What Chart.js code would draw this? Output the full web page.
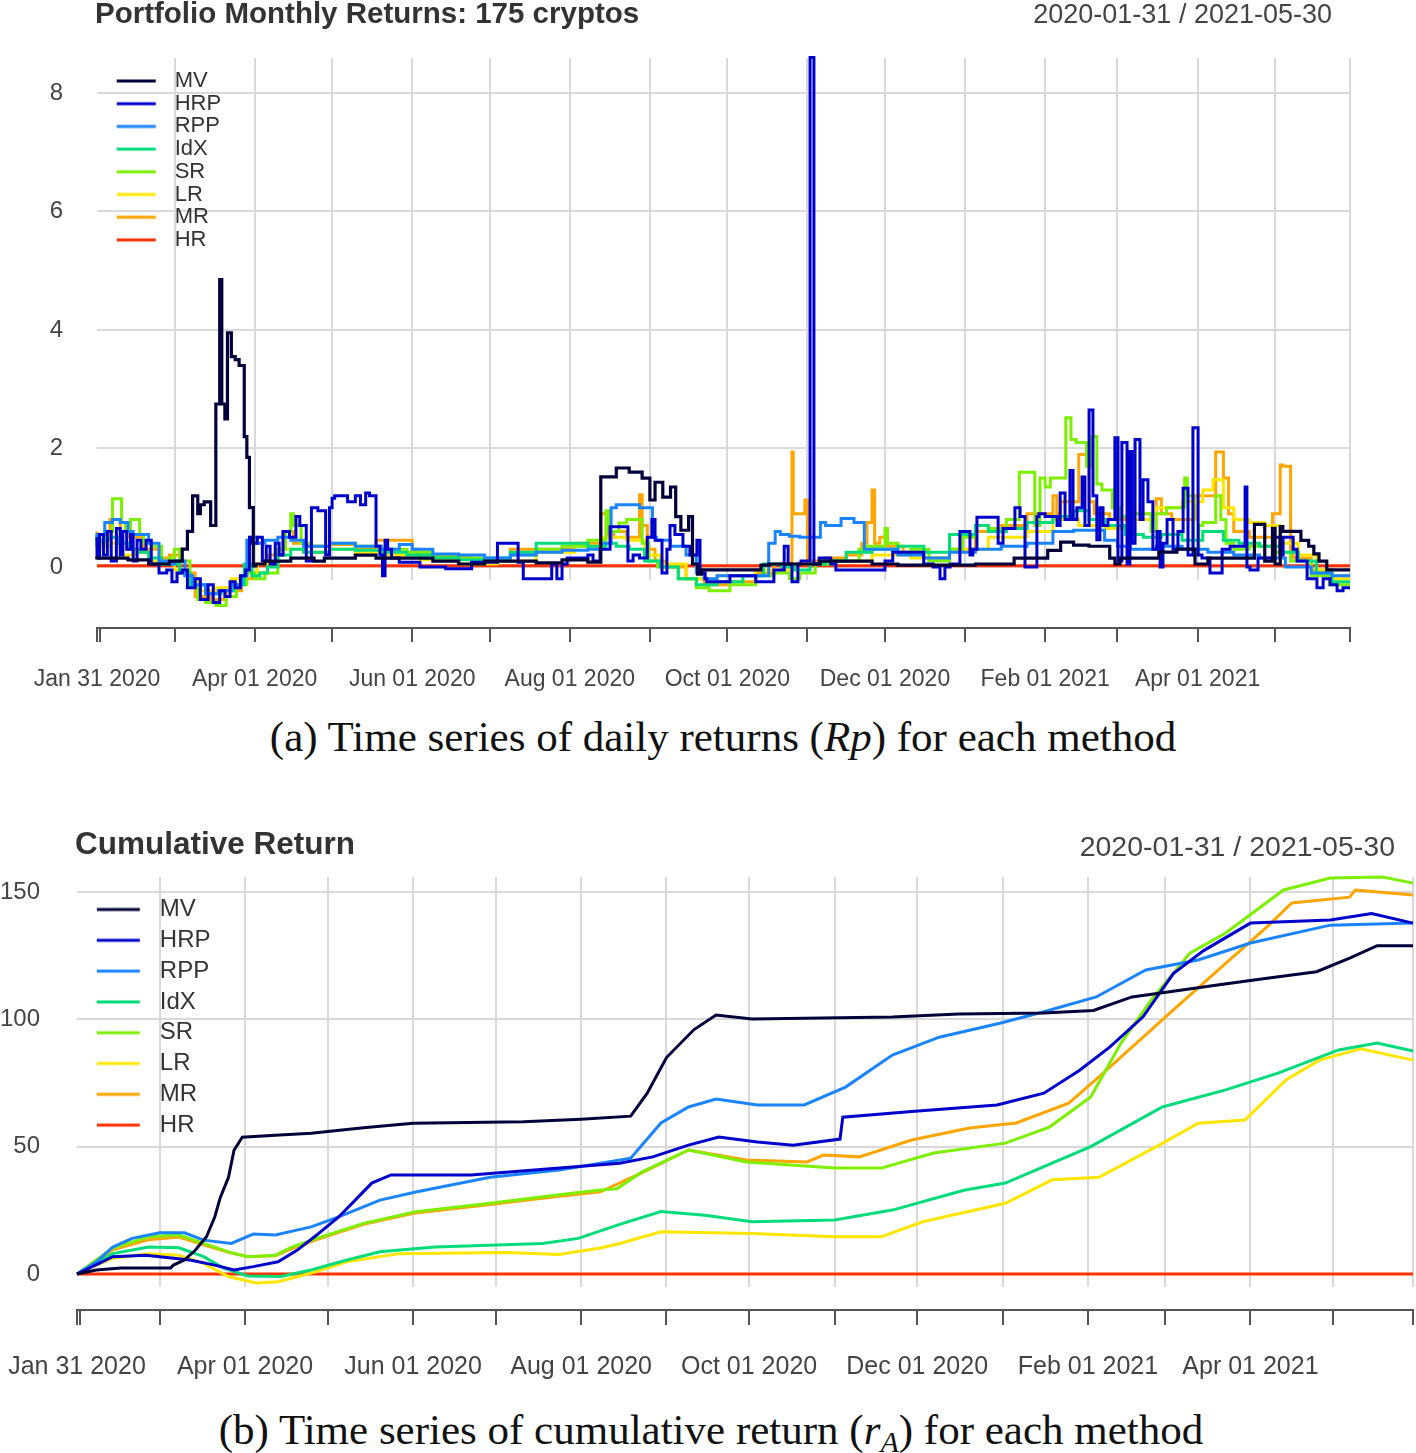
<!DOCTYPE html>
<html><head><meta charset="utf-8">
<script src="https://cdn.jsdelivr.net/npm/chart.js@4.4.1/dist/chart.umd.min.js"></script>
<style>
html,body{margin:0;padding:0;background:#fff;}
#page{position:relative;width:1416px;height:1453px;overflow:hidden;background:#fff;}
canvas{position:absolute;left:0;}
.t{position:absolute;white-space:nowrap;font-family:"Liberation Sans",Arial,sans-serif;line-height:1;}
.cap{position:absolute;white-space:nowrap;font-family:"Liberation Serif","Times New Roman",serif;line-height:1;color:#111;transform:translateX(-50%);}
.cap sub{font-size:70%;vertical-align:-0.25em;line-height:0;}
</style></head><body><div id="page">
<canvas id="cA" width="1416" height="712" style="top:0px"></canvas>
<canvas id="cB" width="1416" height="620" style="top:780px"></canvas>
<div class="t" style="left:95px;top:-2px;font-size:29.5px;font-weight:bold;color:#333">Portfolio Monthly Returns: 175 cryptos</div>
<div class="t" style="right:84px;top:1px;font-size:27px;color:#444">2020-01-31 / 2021-05-30</div>
<div class="cap" style="left:723px;top:715px;font-size:43px">(a) Time series of daily returns (<i>Rp</i>) for each method</div>
<div class="t" style="left:75px;top:828px;font-size:31.5px;font-weight:bold;color:#333">Cumulative Return</div>
<div class="t" style="right:21px;top:832px;font-size:28.5px;color:#444">2020-01-31 / 2021-05-30</div>
<div class="cap" style="left:711px;top:1408px;font-size:43px">(b) Time series of cumulative return (<i>r</i><sub><i>A</i></sub>) for each method</div>
</div>
<script>
// ---------- categories / labels ----------
const SERIES = ['MV','HRP','RPP','IdX','SR','LR','MR','HR'];
const COLORS = ['#00003a','#0000cd','#1a84ff','#00dc7a','#7cf000','#ffe600','#ffa500','#ff3000'];
// day index counted from 2020-01-31
const tickDays = [0,1,30,61,91,122,152,183,214,244,275,305,336,367,395,426,456,485];
const gridDays = [30,61,91,122,152,183,214,244,275,305,336,367,395,426,456,485];
const tickLabelDays = [0,61,122,183,244,305,367,426];
const tickLabels = ['Jan 31 2020','Apr 01 2020','Jun 01 2020','Aug 01 2020','Oct 01 2020','Dec 01 2020','Feb 01 2021','Apr 01 2021'];
const retTicks = [0,2,4,6,8];
const cumTicks = [0,50,100,150];

// ---------- panel (a): daily returns Rp, [day, value] breakpoints ----------
const rpMV = [[0,0.13],[12,0.15],[20,0.12],[28,0.05],[33,0.1],[35,0.3],[37,0.6],[39,1.2],[40,0.9],[41.5,1.05],[44,1.1],[46,0.7],[47.5,2.75],[48.3,4.85],[49.5,2.75],[50.5,2.5],[52,3.95],[53.5,3.55],[55,3.5],[57,3.4],[58,2.2],[59,1.85],[60.5,1.0],[61.5,0.02],[65,0.05],[75,0.1],[84,0.15],[88,0.1],[100,0.15],[108,0.2],[130,0.15],[140,0.1],[150,0.05],[170,0.1],[180,0.07],[190,0.12],[195,0.08],[201,1.52],[206,1.67],[211,1.6],[214,1.5],[216,1.13],[219,1.43],[222,1.18],[224,1.35],[226,0.85],[229,0.62],[230.5,0.85],[232.5,0.05],[234,-0.12],[257,-0.05],[260,0.03],[280,0.05],[300,0.1],[310,0.05],[340,0.03],[355,0.05],[368,0.15],[373,0.28],[378,0.42],[384,0.37],[392,0.35],[394,0.15],[396,0.05],[411,0.15],[418,0.25],[425,0.3],[430,0.05],[448,0.15],[452,0.72],[455,0.1],[456,0.65],[458,0.05],[459,0.68],[466,0.6],[469,0.45],[471,0.35],[473,0.22],[476,0.1],[479,-0.05],[485,-0.05]];
const rpHRP = [[0,0.5],[1,0.15],[2.5,0.55],[4,0.2],[5.5,0.6],[7.5,0.1],[9,0.65],[10,0.2],[11.5,0.6],[13,0.3],[14,0.55],[15.5,0.1],[17,0.45],[19,0.3],[21,0.45],[24,0.05],[27,-0.1],[29,-0.05],[31,-0.25],[33,-0.1],[35,-0.05],[38,-0.35],[40,-0.2],[43,-0.55],[45,-0.3],[47.5,-0.6],[49.5,-0.4],[51.5,-0.5],[53.5,-0.25],[55.5,-0.35],[57.5,-0.15],[59,-0.05],[60,0.5],[62,0.4],[64,0.5],[65.5,0.1],[67,0.35],[69,0.05],[70.5,0.4],[72,0.2],[74.5,0.6],[77,0.5],[78.5,0.85],[81,0.7],[83,0.1],[85.5,1.0],[88.5,0.95],[90,0.2],[91,1.0],[92,1.16],[97,1.2],[100,1.1],[102,1.2],[104,1.05],[105.5,1.25],[108,1.2],[109.5,0.35],[110.5,0.2],[111.5,-0.15],[112.5,0.45],[114,0.3],[117,0.15],[125,0.08],[135,0.0],[145,-0.03],[155,0.08],[163,0.4],[165,0.08],[176,-0.2],[178,0.05],[180,-0.2],[182,0.05],[190,0.15],[192,0.2],[194.7,0.1],[198.6,0.3],[205.5,0.68],[207.5,0.1],[210,0.2],[213,0.15],[214.8,0.5],[216,0.8],[218.7,0.45],[220.6,-0.1],[221.8,0.3],[223.7,0.7],[226.8,0.55],[229.5,0.35],[232.2,0.2],[233.4,0.45],[235.4,-0.1],[236,-0.2],[245,-0.25],[255,-0.15],[262,-0.25],[266,-0.05],[267.5,0.35],[269,0.05],[271.3,-0.25],[272.5,0.05],[276,0.1],[277.5,8.6],[279.5,0.05],[284,0.15],[286,0.05],[305,-0.05],[308,0.1],[320,0.25],[323.6,0.05],[326.3,0.0],[328.2,-0.2],[330.2,0.0],[334,0.05],[337.9,0.6],[339,0.2],[340.6,0.3],[348.8,0.84],[350.7,0.4],[355.3,0.65],[357.3,1.0],[359.2,0.85],[363.8,0.0],[364.6,0.85],[367,0.9],[371.6,0.85],[372.8,0.7],[374.7,1.25],[376.6,0.8],[377.8,1.63],[379.3,0.8],[381.3,1.0],[382.4,1.52],[384,0.7],[385.5,2.65],[387,1.2],[388.2,0.46],[389.4,1.0],[391.3,0.7],[394,0.8],[395.2,2.18],[396.7,0.1],[398.7,2.1],[399.8,0.05],[400.6,1.95],[401.8,0.4],[403.7,2.15],[404.9,0.8],[406.8,1.47],[408.7,1.1],[410.3,0.3],[411.5,0.6],[412.6,0.0],[414.2,0.4],[416.5,0.8],[418.4,0.3],[420.4,0.6],[422.3,1.33],[424.2,0.2],[426.2,2.35],[427.7,0.2],[430.8,0.15],[435.5,-0.1],[438.6,0.3],[444.4,0.35],[445.1,1.35],[446.3,0.0],[449.4,-0.05],[455.2,0.15],[457.9,0.5],[459.1,0.2],[463,0.5],[464.5,0.3],[468.4,0.1],[472.2,-0.2],[474.6,-0.35],[477.3,-0.2],[480,-0.3],[482.3,-0.4],[485,-0.35]];
const rpRPP = [[0,0.45],[3,0.55],[6,0.75],[9,0.8],[12,0.75],[14,0.6],[17,0.55],[20,0.55],[24,0.4],[27,0.1],[30,0.05],[34,0.1],[37,-0.15],[42,-0.3],[47,-0.45],[52,-0.4],[56,-0.3],[58,-0.15],[59.5,0.45],[62,0.5],[65,0.4],[70,0.45],[75,0.5],[80,0.45],[90,0.35],[100,0.4],[110,0.35],[117,0.3],[122,0.38],[124,0.3],[130,0.3],[140,0.22],[150,0.2],[160,0.15],[170,0.2],[180,0.25],[190,0.28],[195,0.3],[199,0.4],[201,1.0],[210,1.05],[215,1.0],[216.5,0.5],[222,0.45],[228,0.35],[232,0.2],[235,-0.1],[240,-0.2],[260,-0.15],[262.5,0.4],[264.5,0.6],[268,0.55],[272,0.52],[280,0.5],[282,0.75],[288,0.7],[293,0.82],[297,0.75],[299,0.3],[310,0.3],[320,0.2],[330,0.15],[340,0.25],[350,0.3],[360,0.35],[370,0.4],[378,0.6],[390,0.62],[395,0.45],[400,0.35],[410,0.3],[420,0.35],[430,0.3],[440,0.25],[450,0.2],[460,0.15],[470,0.0],[478,-0.1],[485,-0.15]];
const rpIdX = [[0,0.35],[4,0.45],[8,0.5],[12,0.4],[16,0.3],[20,0.25],[25,0.15],[28,0.05],[32,0.05],[36,-0.1],[42,-0.3],[48,-0.45],[53,-0.4],[57,-0.3],[60,0.05],[63,-0.15],[66,-0.1],[70,0.0],[75,0.2],[80,0.3],[90,0.25],[100,0.3],[110,0.28],[120,0.25],[130,0.2],[140,0.15],[150,0.12],[160,0.15],[170,0.25],[180,0.4],[190,0.4],[197,0.35],[201,0.4],[206,0.35],[212,0.3],[218,0.1],[225,0.0],[232,-0.2],[240,-0.3],[250,-0.25],[258,-0.15],[265,0.05],[270,0.0],[276,-0.05],[282,0.05],[290,0.1],[300,0.25],[310,0.3],[320,0.35],[330,0.25],[340,0.55],[345,0.7],[352,0.6],[360,0.65],[370,0.75],[378,0.85],[384,0.95],[390,0.8],[398,0.7],[405,0.55],[412,0.5],[420,0.55],[428,0.45],[436,0.6],[442,0.45],[450,0.4],[458,0.35],[465,0.25],[472,0.1],[478,-0.1],[485,-0.25]];
const rpSR = [[0,0.55],[3,0.4],[6,0.6],[9.5,1.15],[11,0.75],[13,0.6],[16.5,0.8],[18,0.55],[21,0.4],[25,0.35],[28,0.1],[30,0.15],[32,0.3],[36,0.1],[39,-0.3],[42,-0.55],[46,-0.6],[50,-0.65],[54,-0.5],[58,-0.3],[61,-0.1],[65,-0.2],[70,-0.1],[73,0.3],[75,0.6],[76,0.9],[79,0.7],[82,0.4],[90,0.35],[100,0.4],[110,0.35],[120,0.3],[130,0.25],[140,0.2],[150,0.15],[160,0.1],[170,0.2],[180,0.3],[190,0.35],[197,0.45],[198,0.95],[202,0.6],[205,0.74],[211,0.8],[213.5,0.4],[217,0.1],[225,0.0],[232,-0.2],[237,-0.35],[245,-0.4],[255,-0.3],[262,-0.15],[268,-0.1],[272,-0.2],[278,-0.1],[285,0.05],[295,0.1],[297,0.3],[305,0.35],[306,0.65],[310,0.4],[315,0.25],[322,0.3],[330,0.1],[335,0.3],[340,0.5],[345,0.7],[352,0.65],[357,0.8],[363,1.6],[365,0.7],[367,1.5],[369,1.35],[375,1.5],[377,2.52],[379,2.15],[383,2.1],[385,1.7],[387,2.2],[389,1.4],[393,1.3],[396,1.0],[400,0.85],[408,0.9],[410,0.6],[414,0.9],[421,1.0],[422,1.5],[424.5,1.2],[426.5,0.2],[428,0.7],[433,0.75],[435,1.2],[437,0.8],[440,0.4],[446,0.3],[455,0.35],[462,0.25],[470,0.1],[477,-0.15],[485,-0.3]];
const rpLR = [[0,0.3],[5,0.35],[10,0.4],[15,0.2],[20,0.25],[25,0.1],[30,0.05],[35,-0.05],[40,-0.25],[46,-0.4],[52,-0.35],[58,-0.2],[62,-0.1],[70,0.05],[80,0.3],[90,0.25],[100,0.3],[112,0.25],[125,0.2],[140,0.12],[155,0.05],[170,0.1],[185,0.25],[195,0.35],[205,0.5],[212,0.45],[218,0.2],[228,0.05],[240,-0.2],[255,-0.15],[270,-0.05],[285,0.05],[300,0.1],[315,0.2],[330,0.15],[345,0.3],[360,0.5],[370,0.6],[380,0.8],[390,0.7],[400,0.65],[410,0.8],[420,1.0],[428,1.1],[432,1.3],[436,1.47],[440,1.0],[446,0.8],[452,0.75],[458,0.7],[465,0.4],[472,0.2],[478,-0.05],[485,-0.2]];
const rpMR = [[0,0.6],[5,0.45],[9,0.8],[12,0.6],[18,0.5],[24,0.3],[28,0.15],[32,0.2],[38,-0.1],[44,-0.5],[50,-0.55],[56,-0.4],[60,-0.2],[66,-0.1],[72,0.2],[76,0.6],[80,0.4],[90,0.35],[100,0.38],[108,0.3],[122,0.45],[124,0.3],[130,0.25],[145,0.18],[160,0.12],[170,0.3],[185,0.3],[195,0.4],[197.5,0.9],[200,0.5],[205,0.6],[210,0.5],[211,1.22],[213,0.7],[216,0.3],[220,0.1],[228,0.0],[235,-0.2],[245,-0.3],[255,-0.25],[262,-0.1],[269,0.05],[269.5,1.94],[271.5,0.9],[274,0.9],[275,1.13],[276.5,0.1],[282,0.1],[290,0.15],[296,0.2],[298,0.4],[300,0.75],[301,1.3],[303,0.4],[306,0.5],[312,0.35],[320,0.25],[330,0.15],[340,0.3],[350,0.6],[360,0.7],[370,0.9],[371.5,1.2],[373,0.9],[380,1.1],[384,1.9],[386,1.1],[392,0.9],[400,0.8],[410,0.9],[412,1.15],[416,0.9],[425,0.8],[433,1.2],[436,1.94],[438,1.5],[440,0.9],[446,0.6],[455,0.5],[458,0.9],[459,1.72],[462,1.7],[463,0.3],[470,0.15],[478,-0.05],[485,-0.15]];
const rpHR = [[0,0.02],[485,0.02]];

// ---------- panel (b): cumulative return rA, [day, value] ----------
const crMV = [[0,0],[7,1.6],[16,2.4],[34,2.4],[35,3.5],[39,5.5],[43,9.4],[47,14.6],[50,22.4],[52,30],[55,38],[57,48.6],[60,53.7],[72,54.5],[85,55.3],[104,57.4],[122,59.2],[162,59.8],[183,60.8],[201,62],[207,71],[214,85],[224,96],[232,101.7],[245,100.1],[296,100.9],[320,102.1],[351,102.5],[369,103.5],[383,108.8],[396,110.7],[414,113.5],[432,116.1],[450,118.7],[462,124],[472,128.9],[485,128.9]];
const crHRP = [[0,0],[8,4.2],[13,6.8],[25,7.4],[30,6.8],[41,5.5],[50,3.5],[57,1.6],[64,2.9],[73,4.8],[80,9.4],[87,15.3],[95,22.4],[101,29],[107,35.7],[114,38.9],[143,38.9],[197,43.5],[209,46],[222,50.6],[233,53.8],[247,51.8],[260,50.6],[277,53],[278,61.6],[303,63.8],[334,66.4],[351,71],[364,80],[375,89.2],[387,101],[398,118],[409,127],[426,137.8],[455,139],[470,141.6],[485,137.8]];
const crRPP = [[0,0],[7,4.8],[13,10.6],[20,14],[30,16.2],[39,16.2],[46,13.3],[56,12],[64,15.7],[72,15.3],[85,18.5],[95,22.4],[110,29],[123,32.2],[150,38],[175,40.8],[190,43.5],[201,45.5],[212,59.3],[222,65.6],[232,68.7],[247,66.4],[264,66.4],[279,73.4],[296,86],[313,93],[335,98.5],[351,103],[370,108.8],[388,119.4],[407,123.3],[426,130],[455,137],[485,137.8]];
const crIdX = [[0,0],[7,4.2],[13,8],[26,10.6],[37,10.3],[46,6.8],[53,2.4],[62,-0.8],[74,-1],[85,1.6],[98,5.5],[110,8.7],[130,10.6],[169,12],[182,14],[197,19.5],[212,24.5],[228,23.1],[245,20.5],[275,21.2],[296,25.1],[322,32.9],[337,35.7],[368,50],[394,65.6],[417,72.3],[436,78.9],[458,88],[472,90.7],[485,87.6]];
const crSR = [[0,0],[7,5.5],[13,10.2],[26,14.6],[37,15.3],[46,12],[55,8.7],[62,6.8],[72,7.4],[78,10.6],[87,14],[104,19.9],[123,24.5],[150,27.8],[175,31.1],[190,33],[196,33.5],[205,40],[222,48.7],[243,44],[275,41.6],[292,41.6],[311,47.5],[337,51.4],[353,57.7],[368,69.5],[379,90.7],[390,107.6],[404,126],[417,133.9],[438,150.8],[455,155.5],[474,155.9],[485,153.5]];
const crLR = [[0,0],[7,3.5],[13,6.2],[26,8],[37,7.4],[46,4.2],[55,-1],[65,-3.5],[73,-3],[85,0.4],[98,4.8],[117,8],[156,8.4],[175,7.7],[190,10.2],[197,12],[212,16.6],[245,15.9],[275,14.6],[292,14.6],[307,20.5],[337,27.8],[354,37],[371,38],[394,51.3],[407,59.2],[424,60.5],[439,76.3],[451,84],[466,88.4],[485,84]];
const crMR = [[0,0],[7,5],[13,9.5],[26,13.5],[37,14.5],[46,11.5],[55,8.5],[62,6.8],[72,7.2],[78,10],[87,13.5],[104,19.5],[123,24],[150,27.3],[175,30.5],[190,32.3],[205,39.7],[222,48.7],[243,44.8],[265,44],[271,46.7],[284,46],[303,52.6],[324,57.3],[341,59.3],[360,67.1],[371,77.4],[383,89.1],[398,103.7],[417,122],[432,136.3],[441,145.7],[462,148],[464,150.8],[485,148.8]];
const crHR = [[0,0],[485,0]];

// ---------- helpers ----------
const FONT = 'Liberation Sans';
function toPts(arr){ return arr.map(p => ({x: p[0], y: p[1]})); }
function labelFor(v){ const k = tickLabelDays.indexOf(v); return k >= 0 ? tickLabels[k] : ''; }
function swatch(color, w, x0, len, lw){
  const c = document.createElement('canvas');
  c.width = w; c.height = 8;
  const g = c.getContext('2d');
  g.strokeStyle = color; g.lineWidth = lw; g.lineCap = 'butt';
  g.beginPath(); g.moveTo(x0, 4); g.lineTo(x0 + len, 4); g.stroke();
  return c;
}
function legendPlacer(left, top){
  return { id: 'legendPlacer', beforeDraw(chart){
    const lg = chart.legend; if (!lg) return;
    lg.left = left; lg.top = top; lg.right = left + 300; lg.bottom = top + 400;
  }};
}

function makePanel(id, series, o){
  const sw = series.map((s, i) => swatch(COLORS[i], o.swW, o.swX, o.swLen, 3));
  return new Chart(document.getElementById(id), {
    type: 'line',
    data: { datasets: series.map((s, i) => ({
      label: SERIES[i], data: toPts(s), borderColor: COLORS[i], backgroundColor: COLORS[i],
      borderWidth: o.lw[i], pointRadius: 0, pointHoverRadius: 0, stepped: o.stepped, fill: false,
      tension: 0, clip: false, borderJoinStyle: 'miter'
    })) },
    options: {
      responsive: false, animation: false, events: [],
      layout: { padding: { top: o.padTop, right: o.padRight, bottom: 0, left: 0 } },
      scales: {
        x: { type: 'linear', position: 'bottom', min: 0, max: 485, weight: 0,
             afterBuildTicks: s => { s.ticks = gridDays.map(v => ({value: v})); },
             afterFit: s => { s.height = o.gap; },
             grid: { color: '#d9d9d9', lineWidth: 2, drawTicks: false },
             border: { display: false }, ticks: { display: false } },
        x2: { type: 'linear', position: 'bottom', min: 0, max: 485, weight: 1,
             afterBuildTicks: s => { s.ticks = tickDays.map(v => ({value: v})); },
             afterFit: s => { s.height = o.axH; },
             grid: { drawOnChartArea: false, drawTicks: true, tickLength: o.tickLen, color: '#555', lineWidth: 2 },
             border: { display: true, color: '#555', width: 2 },
             ticks: { autoSkip: false, maxRotation: 0, minRotation: 0, padding: 3, color: '#444',
                      font: { family: FONT, size: o.xFont, lineHeight: o.xLH }, callback: v => labelFor(v) } },
        y: { type: 'linear', position: 'left', min: o.yMin, max: o.yMax,
             afterBuildTicks: s => { s.ticks = o.yTicks.map(v => ({value: v})); },
             afterFit: s => { s.width = o.yW; },
             grid: { color: '#d9d9d9', lineWidth: 2, drawTicks: false },
             border: { display: false },
             ticks: { padding: o.yPad, color: '#444', font: { family: FONT, size: o.yFont } } }
      },
      plugins: {
        tooltip: { enabled: false },
        legend: { position: 'chartArea', align: 'start',
          labels: { usePointStyle: true, pointStyleWidth: o.swW, padding: o.lgPad, color: '#333',
                    font: { family: FONT, size: o.lgFont },
                    generateLabels: chart => chart.data.datasets.map((ds, i) => ({
                      text: ds.label, pointStyle: sw[i], fillStyle: ds.borderColor, strokeStyle: ds.borderColor,
                      lineWidth: 0, hidden: false, datasetIndex: i, fontColor: '#333' })) } }
      }
    },
    plugins: [legendPlacer(o.lgLeft, o.lgTop)]
  });
}

makePanel('cA', [rpMV, rpHRP, rpRPP, rpIdX, rpSR, rpLR, rpMR, rpHR], {
  lw: [3.2,3,3,3,3,3,3,3], stepped: 'after',
  padTop: 58, padRight: 66, gap: 48, axH: 84, tickLen: 14, xFont: 23, xLH: '70px',
  yMin: -0.22, yMax: 8.59, yTicks: retTicks, yW: 97, yPad: 34, yFont: 24,
  swW: 66, swX: 19, swLen: 39, lgPad: 0.7, lgFont: 22, lgLeft: 97, lgTop: 69.3
});
makePanel('cB', [crMV, crHRP, crRPP, crIdX, crSR, crLR, crMR, crHR], {
  lw: [3,3,3,3,3,3,3,3], stepped: false,
  padTop: 97, padRight: 0, gap: 23, axH: 90, tickLen: 15, xFont: 25, xLH: '78px',
  yMin: -5.1, yMax: 155.9, yTicks: cumTicks, yW: 77, yPad: 37, yFont: 24,
  swW: 64, swX: 13, swLen: 43, lgPad: 6.8, lgFont: 24, lgLeft: 77, lgTop: 110.7
});
</script>
</body></html>
